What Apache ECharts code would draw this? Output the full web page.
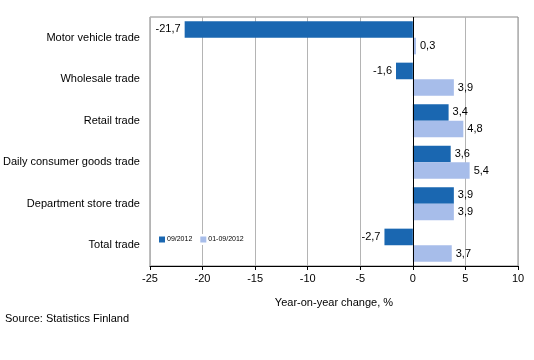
<!DOCTYPE html>
<html><head><meta charset="utf-8">
<script src="https://cdn.jsdelivr.net/npm/echarts@6/dist/echarts.min.js"></script>
<style>html,body{margin:0;padding:0;background:#fff}#c{width:534px;height:360px}</style>
</head><body><div id="c"></div>
<script>
const categories = ["Motor vehicle trade","Wholesale trade","Retail trade","Daily consumer goods trade","Department store trade","Total trade"];
const seriesNames = ["09/2012","01-09/2012"];
const month = [-21.7,-1.6,3.4,3.6,3.9,-2.7];
const ytd = [0.3,3.9,4.8,5.4,3.9,3.7];
const xTicks = {min:-25,max:10,interval:5};

const font = "Liberation Sans, Arial, sans-serif";
const fmt = p => String(p.value).replace('.', ',');
function mkData(arr){
  return arr.map(v => ({value:v, label:{position: v < 0 ? 'left' : 'right'}}));
}
const chart = echarts.init(document.getElementById('c'), null, {renderer:'canvas'});
chart.setOption({
  animation:false,
  textStyle:{fontFamily:font},
  grid:{left:146,right:16,top:17,bottom:94,show:true,borderColor:'#888',borderWidth:1,containLabel:false},
  legend:{
    data:seriesNames, left:156, top:234, orient:'horizontal',
    itemWidth:6,itemHeight:6,itemGap:8,icon:'rect',
    backgroundColor:'#fff',padding:[2,3],
    textStyle:{fontSize:7,fontFamily:font,color:'#000',padding:[0,0,0,-3]}
  },
  xAxis:{
    type:'value',min:xTicks.min,max:xTicks.max,interval:xTicks.interval,
    name:'Year-on-year change, %',nameLocation:'middle',nameGap:31,
    nameTextStyle:{fontSize:11,color:'#000',fontFamily:font},
    axisLine:{show:true,lineStyle:{color:'#000',width:1}},
    axisTick:{show:true,length:4,lineStyle:{color:'#000'}},
    axisLabel:{fontSize:11,color:'#000',margin:7},
    splitLine:{show:true,lineStyle:{color:'#b4b4b4',width:1}}
  },
  yAxis:{
    type:'category',data:categories,inverse:true,
    axisLine:{show:false,onZero:false},
    axisTick:{show:false},
    axisLabel:{fontSize:11,color:'#000',margin:10},
    splitLine:{show:false}
  },
  series:[
    {name:seriesNames[0],type:'bar',data:mkData(month),barGap:'0%',barCategoryGap:'20%',
     itemStyle:{color:'#1a67b1'},
     label:{show:true,formatter:fmt,fontSize:11,color:'#000',distance:4},
     markLine:{silent:true,symbol:'none',label:{show:false},lineStyle:{color:'#000',type:'solid',width:1},data:[{xAxis:0}]}
    },
    {name:seriesNames[1],type:'bar',data:mkData(ytd),
     itemStyle:{color:'#a7bdea'},
     label:{show:true,formatter:fmt,fontSize:11,color:'#000',distance:4}
    }
  ]
});
</script>
<div style="position:absolute;left:5px;top:312px;font:11px 'Liberation Sans',Arial,sans-serif;color:#000">Source: Statistics Finland</div>
</body></html>
